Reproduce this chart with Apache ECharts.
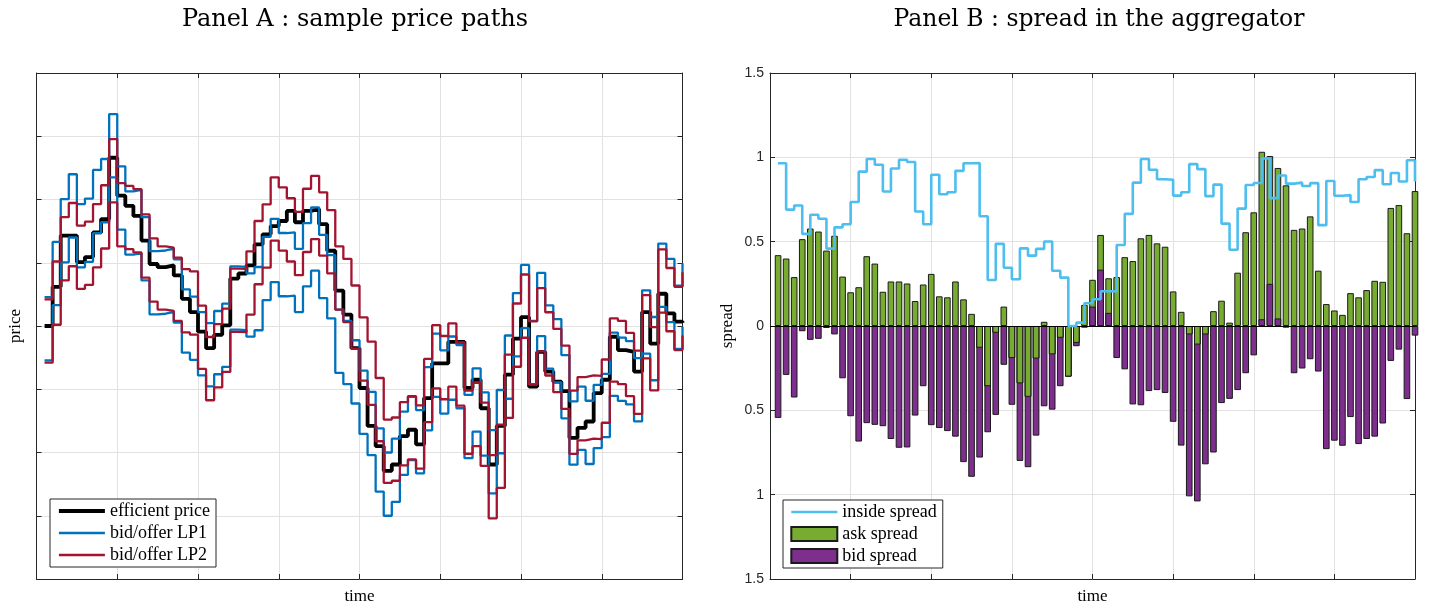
<!DOCTYPE html>
<html>
<head>
<meta charset="utf-8">
<script src="https://cdn.jsdelivr.net/npm/echarts@6/dist/echarts.min.js"></script>
<style>
  html, body { margin: 0; padding: 0; background: #ffffff; }
  #chart { width: 1435px; height: 610px; }
</style>
</head>
<body>
<div id="chart"></div>
<script>
// ---- data -------------------------------------------------------------
// time steps shared by both panels
const timeSteps = Array.from({ length: 80 }, (_, i) => i + 1);

// Panel A : efficient price and the quotes of the two liquidity providers
const effPrice = [
  0, 0.62, 1.43, 1.43, 1.01, 1.09, 1.48, 1.69, 2.66, 2.06,
  1.90, 1.74, 1.35, 0.98, 0.93, 0.96, 0.80, 0.43, 0.22, -0.09,
  -0.35, -0.14, 0.01, 0.75, 0.83, 0.96, 1.29, 1.45, 1.58, 1.66,
  1.82, 1.64, 1.82, 1.85, 1.61, 1.19, 0.56, 0.18, -0.35, -0.98,
  -1.58, -1.90, -2.29, -2.19, -1.74, -1.64, -1.87, -1.14, -0.59, -0.59,
  -0.25, -0.25, -0.98, -0.85, -1.30, -2.19, -1.58, -0.77, -0.20, 0.14,
  -0.96, -0.41, -0.72, -0.88, -1.03, -1.77, -1.61, -1.51, -1.06, -0.85,
  -0.17, -0.38, -0.41, -0.72, 0.22, -0.28, 0.51, 0.20, 0.07, 0.05
];
const lp1Offer = [
  0.455, 1.33, 2.006, 2.399, 1.928, 2.014, 2.468, 2.64, 3.35, 2.525,
  2.13, 2.154, 1.72, 1.183, 1.194, 1.224, 1.052, 0.578, 0.466, 0.219,
  0.045, 0.237, 0.354, 0.943, 0.936, 0.831, 0.933, 1.41, 1.695, 1.47,
  1.48, 1.22, 1.627, 1.875, 1.442, 1.12, 0.26, 0.08, -0.225, -0.706,
  -1.04, -1.617, -2.0, -1.782, -1.355, -1.12, -1.33, -0.65, -0.12, -0.385,
  -0.166, -0.30, -1.09, -0.67, -1.05, -1.647, -1.012, -0.15, 0.52, 0.966,
  0.08, 0.84, 0.325, 0.11, -0.46, -1.192, -0.96, -1.182, -0.93, -0.758,
  -0.104, -0.185, -0.24, -0.507, 0.564, 0.142, 1.303, 1.06, 0.637, 0.993
];
const lp1Bid = [
  -0.545, 0.33, 1.006, 1.399, 0.928, 1.014, 1.468, 1.64, 2.35, 1.525,
  1.13, 1.154, 0.72, 0.183, 0.194, 0.224, 0.052, -0.422, -0.534, -0.781,
  -0.955, -0.763, -0.646, -0.057, -0.064, -0.169, -0.067, 0.41, 0.695, 0.47,
  0.48, 0.22, 0.627, 0.875, 0.442, 0.12, -0.74, -0.92, -1.225, -1.706,
  -2.04, -2.617, -3.0, -2.782, -2.355, -2.12, -2.33, -1.65, -1.12, -1.385,
  -1.166, -1.30, -2.09, -1.67, -2.05, -2.647, -2.012, -1.15, -0.48, -0.034,
  -0.92, -0.16, -0.675, -0.89, -1.46, -2.192, -1.96, -2.182, -1.93, -1.758,
  -1.104, -1.185, -1.24, -1.507, -0.436, -0.858, 0.303, 0.06, -0.363, -0.007
];
const lp2Offer = [
  0.42, 1.02, 1.72, 1.945, 1.588, 1.65, 1.927, 2.225, 2.953, 2.26,
  2.215, 2.164, 1.764, 1.386, 1.26, 1.238, 1.08, 0.899, 0.863, 0.322,
  -0.174, 0.03, 0.274, 0.908, 0.902, 1.18, 1.66, 1.923, 2.35, 2.193,
  2.02, 1.803, 2.17, 2.374, 2.114, 1.833, 1.26, 1.06, 0.64, 0.135,
  -0.246, -0.822, -1.48, -1.447, -1.205, -1.11, -1.256, -0.52, 0.013, -0.158,
  0.041, -0.26, -1.02, -0.90, -1.212, -2.04, -1.56, -0.454, 0.356, 0.814,
  0.073, 0.598, 0.217, -0.046, -0.31, -1.022, -0.807, -0.78, -0.79, -0.53,
  0.12, 0.08, -0.11, -0.39, 0.488, -0.018, 1.21, 0.917, 0.62, 0.85
];
const lp2Bid = [
  -0.58, 0.02, 0.72, 0.945, 0.588, 0.65, 0.927, 1.225, 1.953, 1.26,
  1.215, 1.164, 0.764, 0.386, 0.26, 0.238, 0.08, -0.101, -0.137, -0.678,
  -1.174, -0.97, -0.726, -0.092, -0.098, 0.18, 0.66, 0.923, 1.35, 1.193,
  1.02, 0.803, 1.17, 1.374, 1.114, 0.833, 0.26, 0.06, -0.36, -0.865,
  -1.246, -1.822, -2.48, -2.447, -2.205, -2.11, -2.256, -1.52, -0.987, -1.158,
  -0.959, -1.26, -2.02, -1.90, -2.212, -3.04, -2.56, -1.454, -0.644, -0.186,
  -0.927, -0.402, -0.783, -1.046, -1.31, -2.022, -1.807, -1.78, -1.79, -1.53,
  -0.88, -0.92, -1.11, -1.39, -0.512, -1.018, 0.21, -0.083, -0.38, -0.15
];

// Panel B : spreads of the aggregated book relative to the efficient price
const askSpread = [
  0.42, 0.40, 0.29, 0.515, 0.578, 0.56, 0.447, 0.535, 0.293, 0.20,
  0.23, 0.414, 0.37, 0.203, 0.264, 0.264, 0.252, 0.148, 0.246, 0.309,
  0.176, 0.17, 0.264, 0.158, 0.072, -0.129, -0.357, -0.04, 0.115, -0.19,
  -0.34, -0.42, -0.193, 0.025, -0.168, -0.07, -0.30, -0.10, 0.125, 0.274,
  0.54, 0.283, 0.29, 0.408, 0.385, 0.52, 0.54, 0.49, 0.47, 0.205,
  0.084, -0.05, -0.11, -0.05, 0.088, 0.15, 0.02, 0.316, 0.556, 0.674,
  1.033, 1.008, 0.937, 0.834, 0.57, 0.578, 0.65, 0.328, 0.13, 0.092,
  0.066, 0.195, 0.17, 0.213, 0.268, 0.262, 0.70, 0.717, 0.55, 0.80
];
const bidSpread = [
  -0.545, -0.29, -0.424, -0.031, -0.082, -0.076, -0.012, -0.05, -0.31, -0.535,
  -0.685, -0.576, -0.586, -0.594, -0.67, -0.722, -0.72, -0.531, -0.357, -0.588,
  -0.605, -0.623, -0.656, -0.807, -0.894, -0.78, -0.63, -0.527, -0.23, -0.467,
  -0.80, -0.837, -0.65, -0.476, -0.496, -0.357, -0.30, -0.12, -0.01, 0.115,
  0.334, 0.078, -0.19, -0.257, -0.465, -0.47, -0.386, -0.38, -0.397, -0.568,
  -0.709, -1.01, -1.04, -0.82, -0.75, -0.457, -0.432, -0.38, -0.28, -0.174,
  0.04, 0.25, 0.045, -0.01, -0.28, -0.252, -0.197, -0.27, -0.73, -0.68,
  -0.71, -0.54, -0.70, -0.67, -0.656, -0.578, -0.207, -0.14, -0.433, -0.057
];
const insideSpread = [
  0.965, 0.69, 0.714, 0.546, 0.66, 0.636, 0.459, 0.585, 0.603, 0.735,
  0.915, 0.99, 0.956, 0.797, 0.934, 0.986, 0.972, 0.679, 0.603, 0.897,
  0.781, 0.793, 0.92, 0.965, 0.966, 0.651, 0.273, 0.487, 0.345, 0.277,
  0.46, 0.417, 0.457, 0.501, 0.328, 0.287, 0.0, 0.02, 0.135, 0.159,
  0.206, 0.205, 0.48, 0.665, 0.85, 0.99, 0.926, 0.87, 0.867, 0.773,
  0.793, 0.96, 0.93, 0.77, 0.838, 0.607, 0.452, 0.696, 0.836, 0.848,
  0.993, 0.758, 0.892, 0.844, 0.85, 0.83, 0.847, 0.598, 0.86, 0.772,
  0.776, 0.735, 0.87, 0.883, 0.924, 0.84, 0.907, 0.857, 0.983, 0.857
];

// ---- styling ----------------------------------------------------------
const FRAME = '#262626';
const GRID_LINE = '#e2e2e2';
const SERIF = 'Liberation Serif';
const C = {
  eff: '#000000', lp1: '#0072BD', lp2: '#A2142F',
  inside: '#4DBEEE', ask: '#77AC30', bid: '#7E2F8E', edge: '#1a1a1a'
};
const W = { eff: 3.8, lp: 2.3, inside: 2.6 };

const pairs = arr => arr.map((v, i) => [timeSteps[i], v]);

// where both spreads lie below zero and the ask bar is the shorter one,
// the ask bar is redrawn on top so that it stays visible
const askFront = askSpread
  .map((a, i) => [timeSteps[i], a, bidSpread[i]])
  .filter(([, a, b]) => a < 0 && b < 0 && a >= b)
  .map(([t, a]) => [t, a]);

function xAx(grid, pos, withName) {
  return {
    gridIndex: grid, type: 'value', position: pos, min: 0, max: 80, interval: 10,
    axisLine: { show: true, onZero: false, lineStyle: { color: FRAME, width: 1 } },
    axisTick: { show: true, inside: true, length: 5, lineStyle: { color: FRAME } },
    axisLabel: { show: false },
    splitLine: { show: pos === 'bottom', lineStyle: { color: GRID_LINE, width: 1 } },
    name: withName ? 'time' : '', nameLocation: 'middle', nameGap: 9,
    nameTextStyle: { fontFamily: SERIF, fontSize: 17, color: '#000' }
  };
}
function yAx(grid, pos, lo, hi, step, opts) {
  return Object.assign({
    gridIndex: grid, type: 'value', position: pos, min: lo, max: hi, interval: step,
    axisLine: { show: true, onZero: false, lineStyle: { color: FRAME, width: 1 } },
    axisTick: { show: true, inside: true, length: 5, lineStyle: { color: FRAME } },
    axisLabel: { show: false },
    splitLine: { show: pos === 'left', lineStyle: { color: GRID_LINE, width: 1 } }
  }, opts || {});
}

// legend entries for line series: plain line of the series width, no marker
const lineEntry = (name, width) => ({ name, itemStyle: { opacity: 0 }, lineStyle: { width } });

const legendBase = {
  orient: 'vertical', selectedMode: false,
  itemWidth: 46, itemHeight: 14, itemGap: 4,
  padding: [3, 6, 3, 7],
  backgroundColor: '#ffffff', borderColor: FRAME, borderWidth: 1,
  textStyle: { fontFamily: SERIF, fontSize: 18, color: '#000' }
};

const option = {
  animation: false,
  backgroundColor: '#ffffff',
  title: [
    { text: 'Panel A : sample price paths', left: 350, top: 3, textAlign: 'center',
      textStyle: { fontFamily: 'DejaVu Serif', fontSize: 24, fontWeight: 'normal', color: '#000' } },
    { text: 'Panel B : spread in the aggregator', left: 1094, top: 3, textAlign: 'center',
      textStyle: { fontFamily: 'DejaVu Serif', fontSize: 23.5, fontWeight: 'normal', color: '#000' } }
  ],
  grid: [
    { left: 36.5, top: 73, width: 646, height: 510 },
    { left: 770, top: 73, width: 645, height: 510 }
  ],
  xAxis: [xAx(0, 'bottom', true), xAx(0, 'top', false), xAx(1, 'bottom', true), xAx(1, 'top', false)],
  yAxis: [
    yAx(0, 'left', -4, 4, 1, {
      name: 'price', nameLocation: 'middle', nameGap: 12, nameRotate: 90,
      nameTextStyle: { fontFamily: SERIF, fontSize: 17, color: '#000' }
    }),
    yAx(0, 'right', -4, 4, 1),
    yAx(1, 'left', -1.5, 1.5, 0.5, {
      axisLabel: {
        show: true, margin: 6, color: FRAME, fontFamily: 'Liberation Sans', fontSize: 14,
        formatter: v => String(Math.abs(v))
      },
      name: 'spread', nameLocation: 'middle', nameGap: 34, nameRotate: 90,
      nameTextStyle: { fontFamily: SERIF, fontSize: 17, color: '#000' }
    }),
    yAx(1, 'right', -1.5, 1.5, 0.5)
  ],
  legend: [
    Object.assign({}, legendBase, {
      left: 50, top: 499,
      data: [
        lineEntry('efficient price', W.eff),
        lineEntry('bid/offer LP1', W.lp),
        lineEntry('bid/offer LP2', W.lp)
      ]
    }),
    Object.assign({}, legendBase, {
      left: 783, top: 500,
      data: [
        lineEntry('inside spread', W.inside),
        { name: 'ask spread', icon: 'rect' },
        { name: 'bid spread', icon: 'rect' }
      ]
    })
  ],
  series: [
    // Panel A
    { name: 'efficient price', type: 'line', step: 'end', symbol: 'none',
      xAxisIndex: 0, yAxisIndex: 0, z: 2,
      lineStyle: { color: C.eff, width: W.eff }, itemStyle: { color: C.eff },
      data: pairs(effPrice) },
    { name: 'bid/offer LP1', type: 'line', step: 'end', symbol: 'none',
      xAxisIndex: 0, yAxisIndex: 0, z: 3,
      lineStyle: { color: C.lp1, width: W.lp }, itemStyle: { color: C.lp1 },
      data: pairs(lp1Offer) },
    { name: 'bid/offer LP1', type: 'line', step: 'end', symbol: 'none',
      xAxisIndex: 0, yAxisIndex: 0, z: 3,
      lineStyle: { color: C.lp1, width: W.lp }, itemStyle: { color: C.lp1 },
      data: pairs(lp1Bid) },
    { name: 'bid/offer LP2', type: 'line', step: 'end', symbol: 'none',
      xAxisIndex: 0, yAxisIndex: 0, z: 4,
      lineStyle: { color: C.lp2, width: W.lp }, itemStyle: { color: C.lp2 },
      data: pairs(lp2Offer) },
    { name: 'bid/offer LP2', type: 'line', step: 'end', symbol: 'none',
      xAxisIndex: 0, yAxisIndex: 0, z: 4,
      lineStyle: { color: C.lp2, width: W.lp }, itemStyle: { color: C.lp2 },
      data: pairs(lp2Bid) },

    // Panel B
    { name: 'ask spread', type: 'bar', xAxisIndex: 2, yAxisIndex: 2,
      barWidth: 6.6, barGap: '-100%', z: 2,
      itemStyle: { color: C.ask, borderColor: C.edge, borderWidth: 1 },
      data: pairs(askSpread) },
    { name: 'bid spread', type: 'bar', xAxisIndex: 2, yAxisIndex: 2,
      barWidth: 6.6, barGap: '-100%', z: 2,
      itemStyle: { color: C.bid, borderColor: C.edge, borderWidth: 1 },
      markLine: {
        silent: true, symbol: ['none', 'none'], label: { show: false },
        lineStyle: { color: '#000', width: 1.2, type: 'solid' },
        data: [{ yAxis: 0 }]
      },
      data: pairs(bidSpread) },
    { name: 'ask spread', type: 'bar', xAxisIndex: 2, yAxisIndex: 2,
      barWidth: 6.6, barGap: '-100%', z: 2,
      itemStyle: { color: C.ask, borderColor: C.edge, borderWidth: 1 },
      data: askFront },
    { name: 'inside spread', type: 'line', step: 'end', symbol: 'none',
      xAxisIndex: 2, yAxisIndex: 2, z: 6,
      lineStyle: { color: C.inside, width: W.inside }, itemStyle: { color: C.inside },
      data: pairs(insideSpread) }
  ]
};

const chart = echarts.init(document.getElementById('chart'), null, { renderer: 'canvas' });
chart.setOption(option);
</script>
</body>
</html>
